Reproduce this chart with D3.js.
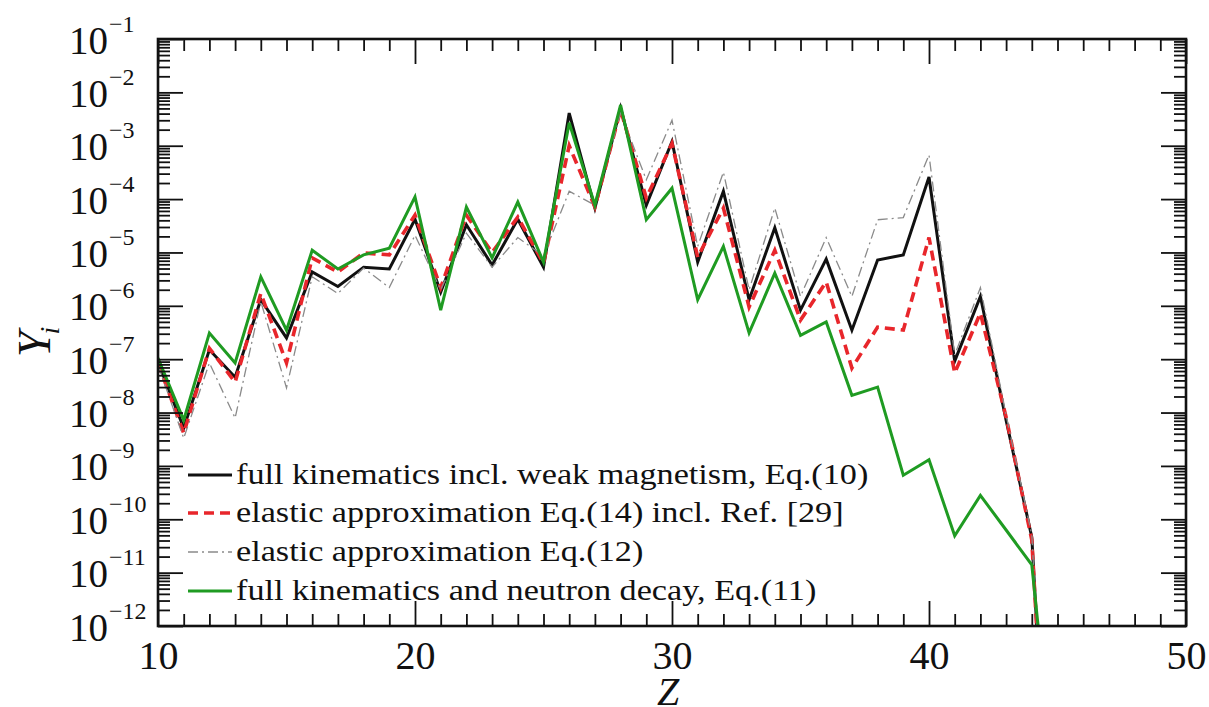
<!DOCTYPE html>
<html>
<head>
<meta charset="utf-8">
<script src="https://cdn.jsdelivr.net/npm/d3@7"></script>
<style>
  html, body { margin: 0; padding: 0; background: #fff; }
  svg { display: block; }
  text { font-family: "Liberation Serif", "DejaVu Serif", serif; fill: #111; }
</style>
</head>
<body>
<svg id="chart" width="1209" height="707"></svg>
<script>
// Proton number of each isotope chain
const zValues = [10, 11, 12, 13, 14, 15, 16, 17, 18, 19, 20, 21, 22, 23, 24, 25, 26, 27,
                 28, 29, 30, 31, 32, 33, 34, 35, 36, 37, 38, 39, 40, 41, 42, 43, 44, 45];

// Abundances Y_i per Z
const fullWeakMag = [8.9e-8, 5.1e-9, 1.5e-7, 4.6e-8, 1.3e-6, 2.5e-7, 4.3e-6, 2.3e-6, 5.3e-6,
  4.9e-6, 4.2e-5, 1.8e-6, 3.3e-5, 5.8e-6, 4.2e-5, 5.3e-6, 4.1e-3, 6.8e-5, 5.1e-3, 7.7e-5,
  1.2e-3, 6.6e-6, 1.4e-4, 1.3e-6, 2.9e-5, 8.3e-7, 7.5e-6, 3.5e-7, 7.2e-6, 9.0e-6, 2.6e-4,
  9.2e-8, 1.5e-6, 7.2e-9, 4.6e-11, 1e-19];
const elasticRef29 = [8.5e-8, 4.1e-9, 1.6e-7, 3.7e-8, 1.7e-6, 8.5e-8, 7.9e-6, 4.3e-6, 9.8e-6,
  9.0e-6, 5.0e-5, 2.2e-6, 5.0e-5, 1.0e-5, 4.6e-5, 6.3e-6, 1.0e-3, 7.1e-5, 4.7e-3, 1.05e-4,
  1.1e-3, 8.2e-6, 6.8e-5, 9.5e-7, 1.1e-5, 5.4e-7, 2.8e-6, 6.8e-8, 4.0e-7, 3.5e-7, 1.9e-5,
  5.5e-8, 7.3e-7, 8.2e-9, 4.1e-11, 1e-19];
const elasticEq12 = [7.8e-8, 3.3e-9, 8.5e-8, 7.9e-9, 1.2e-6, 2.9e-8, 3.5e-6, 1.7e-6, 5.1e-6,
  2.2e-6, 2.1e-5, 2.0e-6, 2.3e-5, 5.3e-6, 1.9e-5, 8.6e-6, 1.4e-4, 7.7e-5, 4.1e-3, 2.3e-4,
  3.0e-3, 1.3e-5, 3.2e-4, 2.0e-6, 6.8e-5, 1.5e-6, 1.9e-5, 1.5e-6, 4.1e-5, 4.5e-5, 6.7e-4,
  1.2e-7, 2.2e-6, 9.0e-9, 5.1e-11, 1e-19];
const fullNeutronDecay = [1.05e-7, 7.2e-9, 3.1e-7, 8.5e-8, 3.5e-6, 3.5e-7, 1.1e-5, 4.9e-6, 9.0e-6,
  1.2e-5, 1.1e-4, 8.3e-7, 7.1e-5, 7.9e-6, 8.8e-5, 6.6e-6, 2.7e-3, 7.7e-5, 5.8e-3, 4.1e-5,
  1.6e-4, 1.3e-6, 1.3e-5, 3.1e-7, 4.1e-6, 2.8e-7, 5.0e-7, 2.1e-8, 3.0e-8, 6.7e-10, 1.3e-9,
  4.9e-11, 2.8e-10, 6.3e-11, 1.4e-11, 3e-16];

const seriesLabels = [
  "full kinematics incl. weak magnetism, Eq.(10)",
  "elastic approximation Eq.(14) incl. Ref. [29]",
  "elastic approximation Eq.(12)",
  "full kinematics and neutron decay, Eq.(11)"
];

const xMajorTicks = [10, 20, 30, 40, 50];
const yDecadeExponents = [-12, -11, -10, -9, -8, -7, -6, -5, -4, -3, -2, -1];

// ---- layout ----
const svg = d3.select("#chart");
const plotLeft = 158, plotRight = 1186, plotTop = 39, plotBottom = 626;

const x = d3.scaleLinear().domain([10, 50]).range([plotLeft, plotRight]);
const y = d3.scaleLog().domain([1e-12, 1e-1]).range([plotBottom, plotTop]);

svg.append("defs").append("clipPath").attr("id", "plotClip")
  .append("rect").attr("x", plotLeft).attr("y", plotTop)
  .attr("width", plotRight - plotLeft).attr("height", plotBottom - plotTop);

// ---- series ----
const styles = [
  { data: fullWeakMag,      color: "#111111", width: 3,   dash: null },
  { data: elasticRef29,     color: "#e8262b", width: 3.6, dash: "10,6" },
  { data: elasticEq12,      color: "#8a8a8a", width: 1.3, dash: "10,4,2,4" },
  { data: fullNeutronDecay, color: "#1f9b22", width: 3,   dash: null }
];

const line = d3.line()
  .x((d, i) => x(zValues[i]))
  .y(d => y(d));

const plot = svg.append("g").attr("clip-path", "url(#plotClip)");
styles.forEach(s => {
  plot.append("path")
    .datum(s.data)
    .attr("d", line)
    .attr("fill", "none")
    .attr("stroke", s.color)
    .attr("stroke-width", s.width)
    .attr("stroke-linejoin", "miter")
    .attr("stroke-dasharray", s.dash);
});

// ---- axes (ticks point inward on all four sides) ----
const majorLen = 25, minorLen = 12;
const xMinor = d3.range(10, 51).filter(v => v % 10 !== 0);
const yMajor = yDecadeExponents.map(e => Math.pow(10, e));
const yMinor = [];
yDecadeExponents.slice(0, -1).forEach(e => {
  for (let k = 2; k <= 9; k++) yMinor.push(k * Math.pow(10, e));
});

function styleAxis(g) {
  g.select(".domain").remove();
  g.selectAll(".tick line").attr("stroke", "#111").attr("stroke-width", 1.8);
}

// bottom
svg.append("g").attr("transform", `translate(0,${plotBottom})`)
  .call(d3.axisBottom(x).tickValues(xMinor).tickSize(-minorLen).tickFormat(""))
  .call(styleAxis);
svg.append("g").attr("transform", `translate(0,${plotBottom})`)
  .call(d3.axisBottom(x).tickValues(xMajorTicks).tickSize(-majorLen).tickPadding(15)
        .tickFormat(d3.format("d")))
  .call(styleAxis)
  .call(g => g.selectAll(".tick text")
    .attr("font-size", 40).attr("font-family", "Liberation Serif").attr("fill", "#111"));
// top
svg.append("g").attr("transform", `translate(0,${plotTop})`)
  .call(d3.axisTop(x).tickValues(xMinor).tickSize(-minorLen).tickFormat(""))
  .call(styleAxis);
svg.append("g").attr("transform", `translate(0,${plotTop})`)
  .call(d3.axisTop(x).tickValues(xMajorTicks).tickSize(-majorLen).tickFormat(""))
  .call(styleAxis);
// left
svg.append("g").attr("transform", `translate(${plotLeft},0)`)
  .call(d3.axisLeft(y).tickValues(yMinor).tickSize(-minorLen).tickFormat(""))
  .call(styleAxis);
const yAxisLeft = svg.append("g").attr("transform", `translate(${plotLeft},0)`)
  .call(d3.axisLeft(y).tickValues(yMajor).tickSize(-majorLen).tickFormat(""))
  .call(styleAxis);
// right
svg.append("g").attr("transform", `translate(${plotRight},0)`)
  .call(d3.axisRight(y).tickValues(yMinor).tickSize(-minorLen).tickFormat(""))
  .call(styleAxis);
svg.append("g").attr("transform", `translate(${plotRight},0)`)
  .call(d3.axisRight(y).tickValues(yMajor).tickSize(-majorLen).tickFormat(""))
  .call(styleAxis);

// power-of-ten labels on the left axis
yAxisLeft.selectAll(".tick").each(function (d) {
  const g = d3.select(this);
  g.select("text").remove();
  const exp = Math.round(Math.log10(d));
  g.append("text")
    .attr("x", -50).attr("y", 14)
    .attr("text-anchor", "end")
    .attr("font-size", 39)
    .text("10");
  g.append("text")
    .attr("x", -49).attr("y", -8)
    .attr("text-anchor", "start")
    .attr("font-size", 24)
    .text("\u2212" + Math.abs(exp));
});

// frame
svg.append("rect")
  .attr("x", plotLeft).attr("y", plotTop)
  .attr("width", plotRight - plotLeft).attr("height", plotBottom - plotTop)
  .attr("fill", "none").attr("stroke", "#111").attr("stroke-width", 2.6);

// ---- axis titles ----
svg.append("text")
  .attr("x", 668).attr("y", 705)
  .attr("text-anchor", "middle")
  .attr("font-size", 40).attr("font-style", "italic")
  .text("Z");

const yTitle = svg.append("text")
  .attr("transform", "translate(50,357) rotate(-90)")
  .attr("font-size", 46).attr("font-style", "italic");
yTitle.append("tspan").text("Y");
yTitle.append("tspan").attr("font-size", 28).attr("dx", -3).attr("dy", 9).text("i");

// ---- legend ----
const legendBaselines = [484, 522, 561, 600];
const legend = svg.append("g");
seriesLabels.forEach((label, i) => {
  const s = styles[i];
  const by = legendBaselines[i];
  legend.append("line")
    .attr("x1", 188).attr("x2", 232)
    .attr("y1", by - 9).attr("y2", by - 9)
    .attr("stroke", s.color)
    .attr("stroke-width", s.width)
    .attr("stroke-dasharray", s.dash);
  legend.append("text")
    .attr("transform", `translate(236,${by}) scale(1.14,1)`)
    .attr("font-size", 30)
    .text(label);
});
</script>
</body>
</html>
